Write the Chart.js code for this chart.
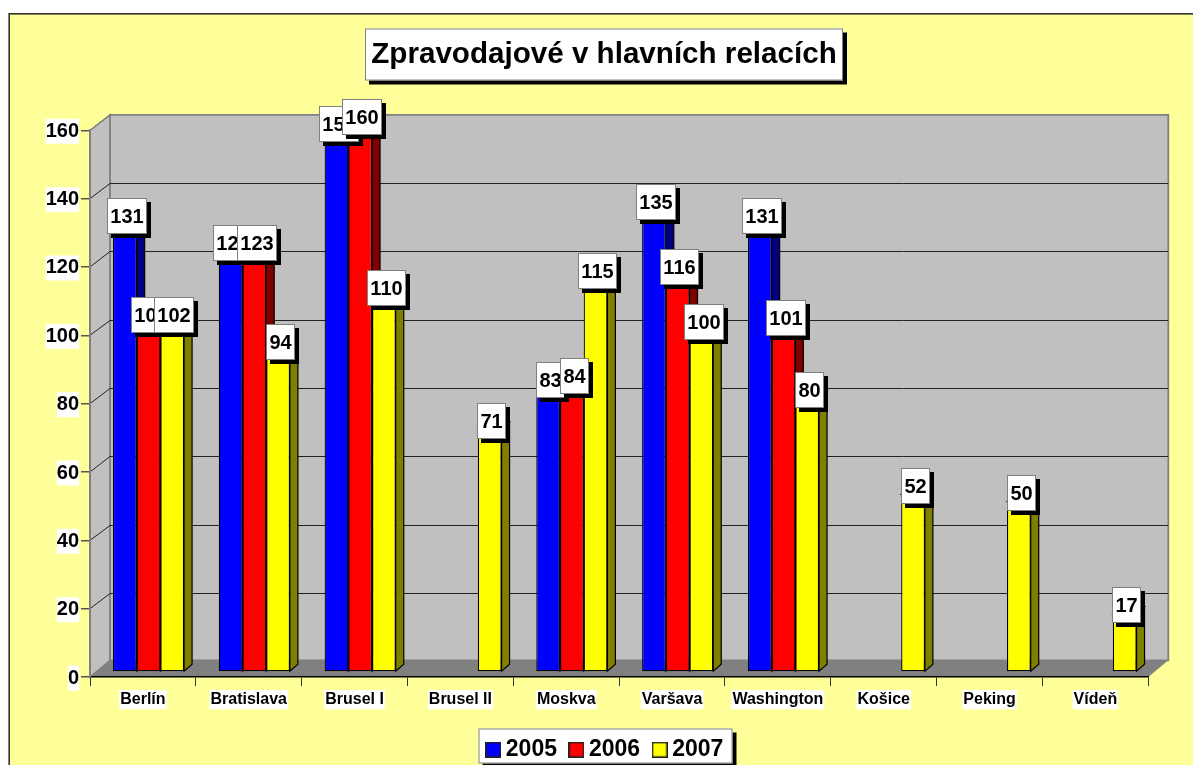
<!DOCTYPE html>
<html>
<head>
<meta charset="utf-8">
<style>html,body{margin:0;padding:0;background:#fff}canvas{display:block}</style>
<script src="https://cdn.jsdelivr.net/npm/chart.js@4"></script>
</head>
<body>
<canvas id="c" width="1193" height="765"></canvas>
<script>
const titleText = 'Zpravodajové v hlavních relacích';
const categories = ['Berlín','Bratislava','Brusel I','Brusel II','Moskva','Varšava','Washington','Košice','Peking','Vídeň'];
const seriesNames = ['2005','2006','2007'];
const values2005 = [131,123,158,null,83,135,131,null,null,null];
const values2006 = [102,123,160,null,84,116,101,null,null,null];
const values2007 = [102,94,110,71,115,100,80,52,50,17];
const frontColors = ['#0000FF','#FF0000','#FFFF00'];
const sideColors = ['#000080','#800000','#808000'];
const yTicks = [0,20,40,60,80,100,120,140,160];

const FONT = '"Liberation Sans", Arial, sans-serif';
const DEPTH = {x:20, y:-15.5};    // wall offset from the front plane
const FLOOR_DY = -16.7;           // floor back edge
const BAR_SHIFT = {x:5.6, y:-5};  // bar front plane inside the floor
const BAR_DEPTH = {x:8, y:-7};    // bar thickness

function swatch(color){
  const c = document.createElement('canvas');
  c.width = 16; c.height = 16;
  const g = c.getContext('2d');
  g.fillStyle = color; g.fillRect(0,0,16,16);
  g.strokeStyle = '#222'; g.lineWidth = 1.5; g.strokeRect(.75,.75,14.5,14.5);
  return c;
}
const swatches = frontColors.map(swatch);

function shadowBox(ctx,x,y,w,h,border,shadow){
  ctx.fillStyle = '#000'; ctx.fillRect(x+shadow,y+shadow,w,h);
  ctx.fillStyle = '#fff'; ctx.fillRect(x,y,w,h);
  ctx.strokeStyle = border; ctx.lineWidth = 1; ctx.strokeRect(x+.5,y+.5,w-1,h-1);
}
function poly(ctx,pts,fill,stroke,lw){
  ctx.beginPath();
  pts.forEach((p,i)=> i ? ctx.lineTo(p[0],p[1]) : ctx.moveTo(p[0],p[1]));
  ctx.closePath();
  if(fill){ctx.fillStyle=fill;ctx.fill();}
  if(stroke){ctx.strokeStyle=stroke;ctx.lineWidth=lw;ctx.stroke();}
}

const scene = {
  id:'scene',
  afterLayout(chart){
    const t = chart.titleBlock, l = chart.legend;
    t.left = 365; t.right = 843; t.top = 37; t.bottom = 72;
    const h = l.height;
    l.left = 473.8; l.right = 473.8 + 400; l.top = 745.5 - h/2; l.bottom = l.top + h;
  },
  beforeDraw(chart){
    const ctx = chart.ctx, a = chart.chartArea, ys = chart.scales.y;
    ctx.save();
    // page & chart background
    ctx.fillStyle = '#FFFFFF'; ctx.fillRect(0,0,chart.width,chart.height);
    ctx.fillStyle = '#FFFF99'; ctx.fillRect(9,13,chart.width,chart.height);
    ctx.fillStyle = '#333'; ctx.fillRect(9,13,chart.width,1.6); ctx.fillRect(8.4,13,1.6,chart.height);
    // title and legend boxes
    shadowBox(ctx,365,28.5,478,52,'#808080',4);
    shadowBox(ctx,478.5,728.5,254,35,'#808080',4);
    // walls
    const L=a.left,R=a.right,T=a.top,B=a.bottom,dx=DEPTH.x,dy=DEPTH.y,fy=FLOOR_DY;
    poly(ctx,[[L,B],[L,T],[L+dx,T+dy],[L+dx,B+fy]],'#C0C0C0','#808080',1.5);
    poly(ctx,[[L+dx,T+dy],[R+dx,T+dy],[R+dx,B+fy],[L+dx,B+fy]],'#C0C0C0','#808080',1.8);
    poly(ctx,[[L,B],[L+dx,B+fy],[R+dx,B+fy],[R,B]],'#808080',null,0);
    // wall gridlines
    ctx.strokeStyle = '#222'; ctx.lineWidth = 1;
    yTicks.forEach(v=>{
      if(v===0||v===160) return;
      const y = ys.getPixelForValue(v);
      const by = Math.round(y+dy)+.5;
      ctx.beginPath(); ctx.moveTo(L,y); ctx.lineTo(L+dx,by); ctx.lineTo(R+dx,by); ctx.stroke();
    });
    ctx.restore();
  },
  beforeDatasetsDraw(chart){
    const ctx = chart.ctx;
    ctx.save();
    ctx.translate(BAR_SHIFT.x,BAR_SHIFT.y);
    // side and top faces go under every front face
    chart.data.datasets.forEach((ds,d)=>{
      chart.getDatasetMeta(d).data.forEach((el,i)=>{
        if(ds.data[i]==null) return;
        const p = el.getProps(['x','y','base','width'],true);
        const l = p.x-p.width/2, r = p.x+p.width/2, bx = BAR_DEPTH.x, by = BAR_DEPTH.y;
        poly(ctx,[[r,p.y],[r+bx,p.y+by],[r+bx,p.base+by],[r,p.base]],sideColors[d],'#000',1.2);
        poly(ctx,[[l,p.y],[l+bx,p.y+by],[r+bx,p.y+by],[r,p.y]],sideColors[d],'#000',1.2);
      });
    });
  },
  afterDatasetsDraw(chart){
    const ctx = chart.ctx;
    ctx.restore();
    ctx.save();
    ctx.font = 'bold 20px '+FONT;
    ctx.textAlign = 'center'; ctx.textBaseline = 'middle';
    chart.data.datasets.forEach((ds,d)=>{
      chart.getDatasetMeta(d).data.forEach((el,i)=>{
        if(ds.data[i]==null) return;
        const p = el.getProps(['x','y'],true);
        const txt = String(ds.data[i]);
        const w = Math.round(ctx.measureText(txt).width + 6.5), h = 36;
        const cx = p.x + BAR_SHIFT.x + 2.2, cy = p.y + BAR_SHIFT.y - 8.5;
        const x = Math.round(cx-w/2), y = Math.round(cy-h/2);
        shadowBox(ctx,x,y,w,h,'#808080',4);
        ctx.fillStyle = '#000';
        ctx.fillText(txt,x+w/2,y+h/2+1);
      });
    });
    ctx.restore();
  }
};

new Chart(document.getElementById('c'),{
  type:'bar',
  data:{
    labels:categories,
    datasets:[values2005,values2006,values2007].map((vals,d)=>({
      label:seriesNames[d],
      data:vals,
      backgroundColor:frontColors[d],
      borderColor:'#000',
      borderWidth:1.2,
      borderSkipped:false,
      clip:false,
      categoryPercentage:0.672,
      barPercentage:1
    }))
  },
  options:{
    responsive:false,
    animation:false,
    layout:{padding:{top:130.3-35.52,right:44.7,left:0,bottom:0}},
    scales:{
      x:{
        type:'category',
        afterFit(s){ s.height = s.chart.height - 677 - s.chart.legend.height; },
        grid:{drawOnChartArea:false,drawTicks:true,tickLength:9,color:'#333',lineWidth:1},
        border:{display:true,color:'#000',width:1.5},
        ticks:{
          autoSkip:false,maxRotation:0,minRotation:0,padding:4,color:'#000',
          font:{family:FONT,size:16,weight:'bold'},
          showLabelBackdrop:true,backdropColor:'#fff',backdropPadding:{x:1,y:0}
        }
      },
      y:{
        min:0,max:160,
        afterFit(s){ s.width = 90; },
        afterBuildTicks(s){ s.ticks = yTicks.map(v=>({value:v})); },
        grid:{drawOnChartArea:false,drawTicks:true,tickLength:9,color:'#555',lineWidth:1.5},
        border:{display:true,color:'#808080',width:2},
        ticks:{
          padding:2,color:'#000',labelOffset:1,
          font:{family:FONT,size:20,weight:'bold'},
          showLabelBackdrop:true,backdropColor:'#fff',backdropPadding:{x:0,y:0.5}
        }
      }
    },
    plugins:{
      title:{
        display:true,text:titleText,color:'#000',padding:0,
        font:{family:FONT,size:29.6,weight:'bold',lineHeight:1.2}
      },
      legend:{
        display:true,position:'bottom',align:'start',
        labels:{
          color:'#000',padding:18.5,usePointStyle:true,pointStyleWidth:2,boxHeight:16,
          font:{family:FONT,size:23,weight:'bold'},
          generateLabels(chart){
            return Chart.defaults.plugins.legend.labels.generateLabels(chart)
              .map((it,i)=>Object.assign(it,{pointStyle:swatches[i]}));
          }
        }
      },
      tooltip:{enabled:false}
    }
  },
  plugins:[scene]
});
</script>
</body>
</html>
